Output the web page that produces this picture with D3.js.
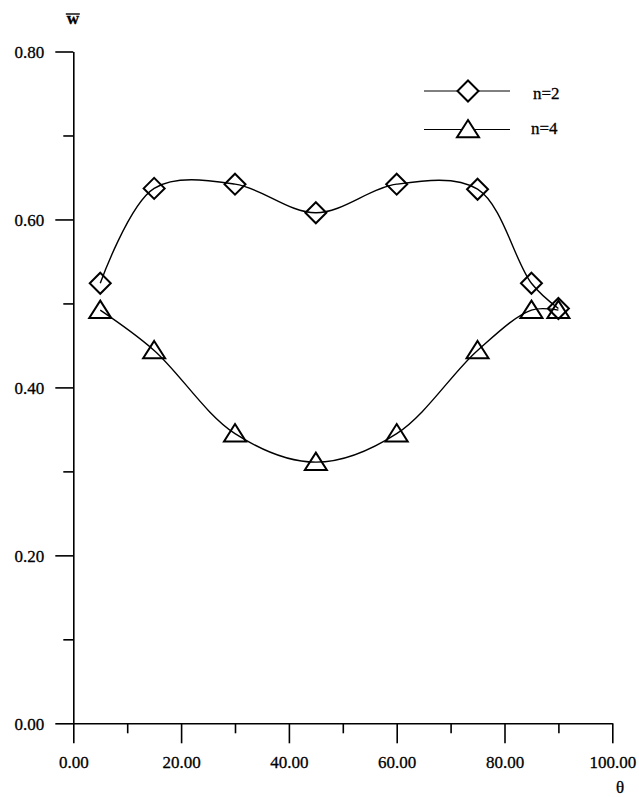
<!DOCTYPE html>
<html>
<head>
<meta charset="utf-8">
<script src="https://cdn.jsdelivr.net/npm/d3@7"></script>
<style>
  html, body { margin: 0; padding: 0; background: #fff; }
  svg { display: block; }
</style>
</head>
<body>
<svg id="chart" width="639" height="797"></svg>
<script>
// Deflection w̄ versus angle θ for two values of n
const theta = [5, 15, 30, 45, 60, 75, 85, 90];
const wN2 = [0.524, 0.637, 0.642, 0.608, 0.642, 0.636, 0.524, 0.494];
const wN4 = [0.492, 0.444, 0.345, 0.311, 0.345, 0.444, 0.492, 0.492];
const seriesNames = ["n=2", "n=4"];
const xMajorTicks = [0, 20, 40, 60, 80, 100];
const xMinorTicks = [10, 30, 50, 70, 90];
const yMajorTicks = [0, 0.2, 0.4, 0.6, 0.8];
const yMinorTicks = [0.1, 0.3, 0.5, 0.7];

const FONT = "'Liberation Serif', 'Times New Roman', Times, 'DejaVu Serif', serif";
const FS = 17;

const svg = d3.select("#chart");
const x = d3.scaleLinear().domain([0, 100]).range([73.3, 612.3]);
const y = d3.scaleLinear().domain([0, 0.8]).range([723.3, 51.5]);
const fmt = d3.format(".2f");

const styleText = sel => sel
  .attr("font-family", FONT).attr("font-size", FS)
  .style("font-family", FONT).style("font-size", FS + "px")
  .attr("fill", "#000").attr("stroke", "#000").attr("stroke-width", 0.3);

// Axes: major ticks with labels, shorter minor ticks without
const gx = svg.append("g").attr("transform", `translate(0,${y(0)})`)
  .call(d3.axisBottom(x).tickValues(xMajorTicks).tickSize(20).tickSizeOuter(0).tickFormat(fmt));
svg.append("g").attr("transform", `translate(0,${y(0)})`)
  .call(d3.axisBottom(x).tickValues(xMinorTicks).tickSize(10).tickSizeOuter(0).tickFormat(""))
  .select(".domain").remove();
gx.attr("font-family", FONT).attr("font-size", FS);
gx.selectAll("text").attr("y", 45).attr("dy", null).call(styleText);

const gy = svg.append("g").attr("transform", `translate(${x(0)},0)`)
  .call(d3.axisLeft(y).tickValues(yMajorTicks).tickSize(18).tickSizeOuter(0).tickPadding(11).tickFormat(fmt));
svg.append("g").attr("transform", `translate(${x(0)},0)`)
  .call(d3.axisLeft(y).tickValues(yMinorTicks).tickSize(10).tickSizeOuter(0).tickFormat(""))
  .select(".domain").remove();
gy.attr("font-family", FONT).attr("font-size", FS);
gy.selectAll("text").attr("dy", 6).call(styleText);

svg.selectAll(".domain").attr("stroke", "#000").attr("stroke-width", 1.6);
svg.selectAll(".tick line").attr("stroke", "#000").attr("stroke-width", 1.6);

// Axis titles
svg.append("text").attr("x", x(0) - 0.5).attr("y", 24).attr("text-anchor", "middle")
  .call(styleText).attr("font-weight", "bold").style("font-weight", "bold").text("w");
svg.append("line").attr("x1", x(0) - 7.5).attr("x2", x(0) + 6.5)
  .attr("y1", 14).attr("y2", 14).attr("stroke", "#000").attr("stroke-width", 1.4);
svg.append("text").attr("x", 620).attr("y", 793).attr("text-anchor", "middle")
  .call(styleText).text("θ");

// Marker shapes
const diamond = r => `M0,${-r}L${r},0L0,${r}L${-r},0Z`;
const triangle = (w, up, down) => `M0,${-up}L${w},${down}L${-w},${down}Z`;
const markers = [
  () => diamond(10.5),
  () => triangle(11, 9.5, 7.8)
];

const line = d3.line().x(d => x(d[0])).y(d => y(d[1])).curve(d3.curveCatmullRom.alpha(0.5));
const series = [wN2, wN4];

series.forEach((vals, i) => {
  const pts = theta.map((t, k) => [t, vals[k]]);
  svg.append("path").datum(pts).attr("d", line)
    .attr("fill", "none").attr("stroke", "#000").attr("stroke-width", 1.4);
  svg.append("g").selectAll("path").data(pts).join("path")
    .attr("transform", d => `translate(${x(d[0])},${y(d[1])})`)
    .attr("d", markers[i]())
    .attr("fill", "none").attr("stroke", "#000").attr("stroke-width", 2);
});

// Legend
const legY = [91, 129.5];
seriesNames.forEach((name, i) => {
  const g = svg.append("g");
  g.append("line").attr("x1", 424).attr("x2", 510).attr("y1", legY[i]).attr("y2", legY[i])
    .attr("stroke", "#000").attr("stroke-width", 1);
  g.append("path").attr("transform", `translate(468,${legY[i]})`).attr("d", markers[i]())
    .attr("fill", "#fff").attr("stroke", "#000").attr("stroke-width", 2);
  g.append("text").attr("x", i === 0 ? 533 : 531).attr("y", legY[i] + (i === 0 ? 8 : 4.5))
    .call(styleText).text(name);
});
</script>
</body>
</html>
